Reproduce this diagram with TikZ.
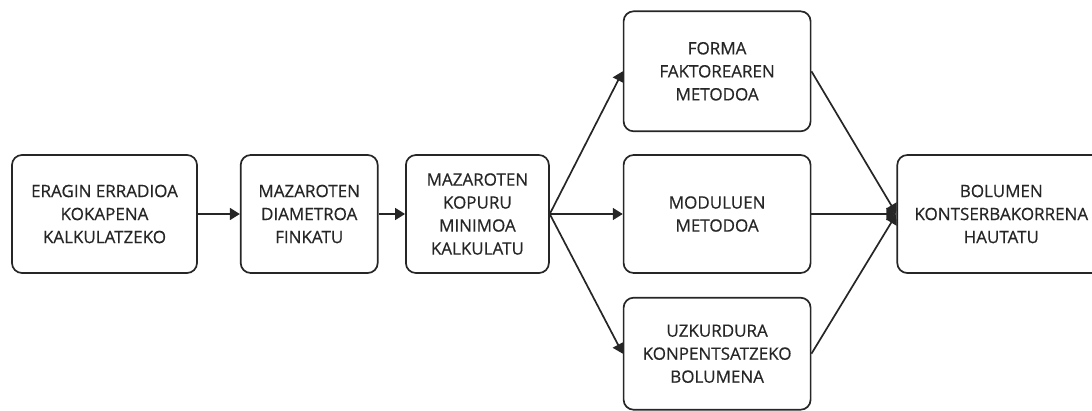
\documentclass[tikz,border=0pt]{standalone}
\usepackage{fontspec}
\setmainfont{Open Sans}[FakeBold=0.5]
\usetikzlibrary{positioning,arrows.meta}

\definecolor{ink}{HTML}{262626}

\begin{document}
\begin{tikzpicture}[x=1pt, y=-1pt, line width=1.7pt, draw=ink,
		main/.style={draw=ink, text=ink, rounded corners=10pt, align=center, inner sep=2pt,
			minimum height=118pt, font=\fontsize{17}{23}\selectfont},
		flow/.style={draw=ink, -{Triangle[length=10pt,width=12pt]}}]
		\useasboundingbox (0,0) rectangle (1092,410);

		\node[main, minimum width=185pt] (eragin) at (104.5,214) {ERAGIN ERRADIOA\\KOKAPENA\\KALKULATZEKO};
		\node[main, minimum width=137pt] (diametroa) [right=42pt of eragin] {MAZAROTEN\\DIAMETROA\\FINKATU};
		\node[main, minimum width=143pt] (kopurua) [right=26.5pt of diametroa] {MAZAROTEN\\KOPURU\\MINIMOA\\KALKULATU};
		\node[main, minimum width=187pt] (moduluak) [right=73pt of kopurua] {MODULUEN\\METODOA};
		\node[main, minimum width=187pt, minimum height=120pt] (forma) [above=22pt of moduluak] {FORMA\\FAKTOREAREN\\METODOA};
		\node[main, minimum width=187pt, minimum height=112pt] (uzkurdura) [below=23pt of moduluak] {UZKURDURA\\KONPENTSATZEKO\\BOLUMENA};
		\node[main, minimum width=208pt] (bolumena) [right=85pt of moduluak] {BOLUMEN\\KONTSERBAKORRENA\\HAUTATU};

		\draw[flow] (eragin) -- (diametroa);
		\draw[flow] (diametroa) -- (kopurua);
		\draw[flow] (kopurua.east) -- (forma.west);
		\draw[flow] (kopurua.east) -- (moduluak.west);
		\draw[flow] (kopurua.east) -- (uzkurdura.west);
		\draw[flow] (forma.east) -- (bolumena.west);
		\draw[flow] (moduluak.east) -- (bolumena.west);
		\draw[flow] (uzkurdura.east) -- (bolumena.west);

	\end{tikzpicture}
\end{document}
